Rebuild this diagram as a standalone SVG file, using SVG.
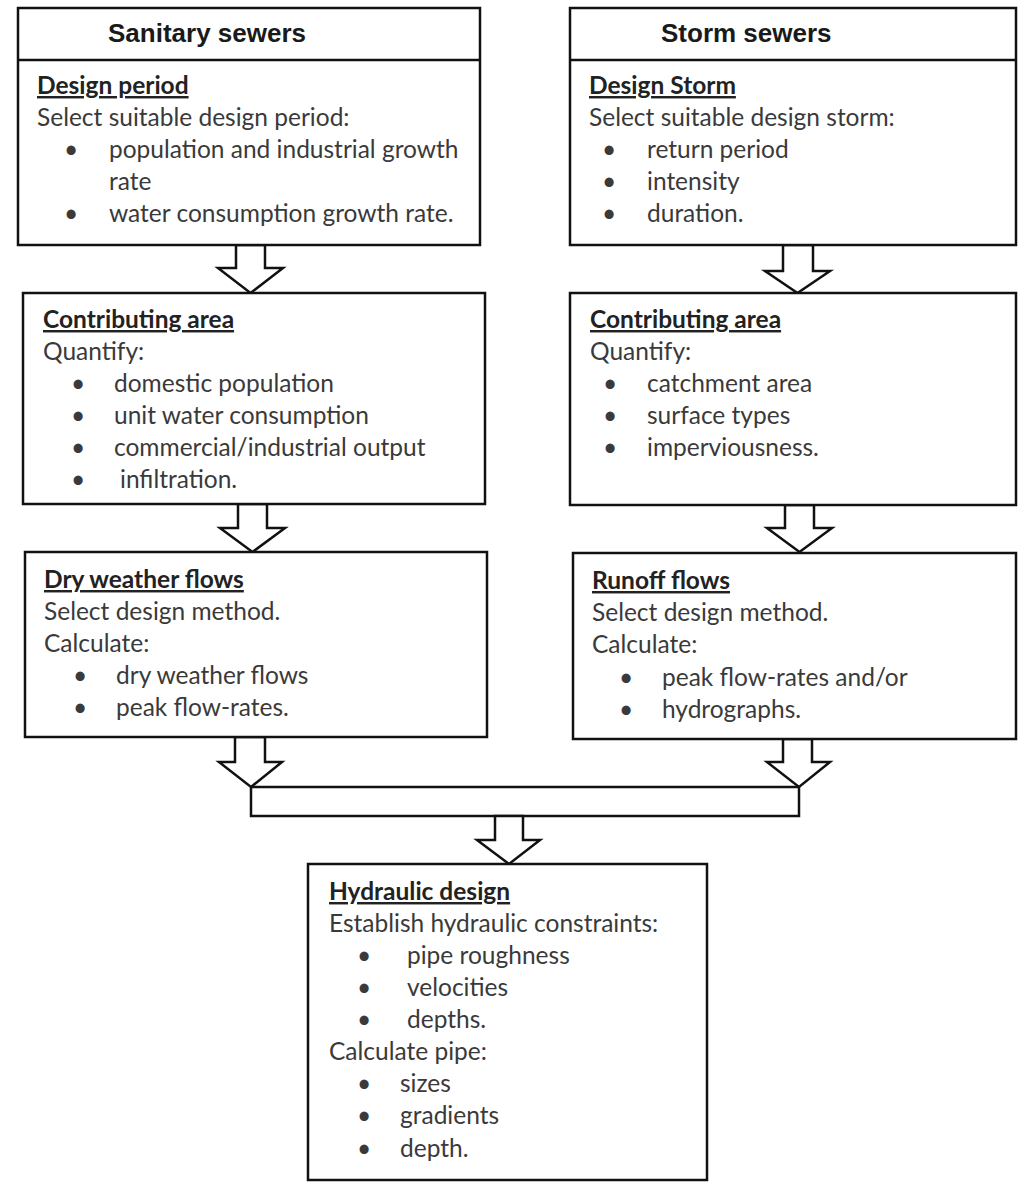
<svg xmlns="http://www.w3.org/2000/svg" width="1018" height="1182" viewBox="0 0 1018 1182">
<style>
.box{fill:#fff;stroke:#111;stroke-width:2.5}
.arr{fill:#fff;stroke:#111;stroke-width:2.5;stroke-linejoin:miter}
.hd{font-family:"Liberation Sans",Arial,sans-serif;font-weight:bold;font-size:26px;fill:#1a1a1a}
.t{font-family:Lato,"Noto Sans",sans-serif;font-size:24.5px;fill:#3a3a3a}
.ti{font-family:Lato,"Noto Sans",sans-serif;font-size:24.5px;font-weight:bold;fill:#222;text-decoration:underline}
</style>
<rect width="1018" height="1182" fill="#fff"/>
<g id="connectors">
<polygon class="arr" points="236,245 265,245 265,268 283,268 250.5,293 218,268 236,268"/>
<polygon class="arr" points="238,504 267,504 267,528 285,528 252.5,552 220,528 238,528"/>
<polygon class="arr" points="783,245 813,245 813,271 830,271 797.5,293 765,271 783,271"/>
<polygon class="arr" points="785,505 814,505 814,528 832,528 799.5,552 767,528 785,528"/>
<polygon class="arr" points="235,737 265,737 265,762 282,762 251,787 219,762 235,762"/>
<polygon class="arr" points="783,739 812,739 812,762 830,762 799,787 767,762 783,762"/>
<rect class="arr" x="251" y="787" width="548" height="29"/>
<polygon class="arr" points="495,816 523,816 523,840 540,840 509,864 477,840 495,840"/>
</g>
<g id="sanitary">
<rect class="box" x="18" y="8" width="462" height="237"/>
<line x1="18" y1="60" x2="480" y2="60" stroke="#111" stroke-width="2.5"/>
<text class="hd" x="108" y="42">Sanitary sewers</text>
<text class="ti" x="37" y="94">Design period</text>
<text class="t" x="37" y="126">Select suitable design period:</text>
<text class="t" x="64" y="158">•</text><text class="t" x="109" y="158">population and industrial growth</text>
<text class="t" x="109" y="190">rate</text>
<text class="t" x="64" y="222">•</text><text class="t" x="109" y="222">water consumption growth rate.</text>
</g>
<g id="storm">
<rect class="box" x="570" y="8" width="446" height="237"/>
<line x1="570" y1="60" x2="1016" y2="60" stroke="#111" stroke-width="2.5"/>
<text class="hd" x="661" y="42">Storm sewers</text>
<text class="ti" x="589" y="94">Design Storm</text>
<text class="t" x="589" y="126">Select suitable design storm:</text>
<text class="t" x="602" y="158">•</text><text class="t" x="647" y="158">return period</text>
<text class="t" x="602" y="190">•</text><text class="t" x="647" y="190">intensity</text>
<text class="t" x="602" y="222">•</text><text class="t" x="647" y="222">duration.</text>
</g>
<g id="contrib-left">
<rect class="box" x="23" y="293" width="462" height="211"/>
<text class="ti" x="43" y="328">Contributing area</text>
<text class="t" x="43" y="360">Quantify:</text>
<text class="t" x="71" y="392">•</text><text class="t" x="114" y="392">domestic population</text>
<text class="t" x="71" y="424">•</text><text class="t" x="114" y="424">unit water consumption</text>
<text class="t" x="71" y="456">•</text><text class="t" x="114" y="456">commercial/industrial output</text>
<text class="t" x="71" y="488">•</text><text class="t" x="120" y="488">infiltration.</text>
</g>
<g id="contrib-right">
<rect class="box" x="570" y="293" width="446" height="212"/>
<text class="ti" x="590" y="328">Contributing area</text>
<text class="t" x="590" y="360">Quantify:</text>
<text class="t" x="603" y="392">•</text><text class="t" x="647" y="392">catchment area</text>
<text class="t" x="603" y="424">•</text><text class="t" x="647" y="424">surface types</text>
<text class="t" x="603" y="456">•</text><text class="t" x="647" y="456">imperviousness.</text>
</g>
<g id="dry-weather">
<rect class="box" x="25" y="552" width="462" height="185"/>
<text class="ti" x="44" y="588">Dry weather flows</text>
<text class="t" x="44" y="620">Select design method.</text>
<text class="t" x="44" y="652">Calculate:</text>
<text class="t" x="73" y="684">•</text><text class="t" x="116" y="684">dry weather flows</text>
<text class="t" x="73" y="716">•</text><text class="t" x="116" y="716">peak flow-rates.</text>
</g>
<g id="runoff">
<rect class="box" x="573" y="553" width="443" height="186"/>
<text class="ti" x="592" y="589">Runoff flows</text>
<text class="t" x="592" y="621">Select design method.</text>
<text class="t" x="592" y="653">Calculate:</text>
<text class="t" x="619" y="686">•</text><text class="t" x="662" y="686">peak flow-rates and/or</text>
<text class="t" x="619" y="718">•</text><text class="t" x="662" y="718">hydrographs.</text>
</g>
<g id="hydraulic">
<rect class="box" x="308" y="864" width="399" height="316"/>
<text class="ti" x="329" y="900">Hydraulic design</text>
<text class="t" x="329" y="932">Establish hydraulic constraints:</text>
<text class="t" x="357" y="964">•</text><text class="t" x="407" y="964">pipe roughness</text>
<text class="t" x="357" y="996">•</text><text class="t" x="407" y="996">velocities</text>
<text class="t" x="357" y="1028">•</text><text class="t" x="407" y="1028">depths.</text>
<text class="t" x="329" y="1060">Calculate pipe:</text>
<text class="t" x="357" y="1092">•</text><text class="t" x="400" y="1092">sizes</text>
<text class="t" x="357" y="1124">•</text><text class="t" x="400" y="1124">gradients</text>
<text class="t" x="357" y="1157">•</text><text class="t" x="400" y="1157">depth.</text>
</g>
</svg>
